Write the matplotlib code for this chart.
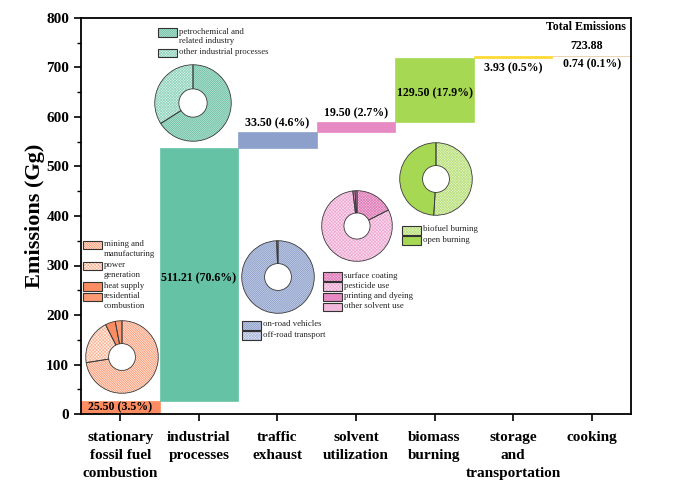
import numpy as np
import matplotlib
matplotlib.use('Agg')
from matplotlib import pyplot as plt
from matplotlib.patches import Rectangle
from matplotlib.ticker import MultipleLocator

plt.rcParams['font.family'] = ['Liberation Serif', 'DejaVu Serif']
plt.rcParams['hatch.linewidth'] = 0.5

W, H = 685, 492  # figure size in pixels (dpi 100)

# waterfall data (Gg)
sectors = ['stationary\nfossil fuel\ncombustion', 'industrial\nprocesses', 'traffic\nexhaust',
           'solvent\nutilization', 'biomass\nburning', 'storage\nand\ntransportation', 'cooking']
emissions = [25.50, 511.21, 33.50, 19.50, 129.50, 3.93, 0.74]
total = 723.88
bar_colors = ['#FC8D62', '#66C2A5', '#8DA0CB', '#E78AC3', '#A6D854', '#FFD92F', '#E5C494']

# sub-source shares inside each sector (%)
stat_labels = ['mining and\nmanufacturing', 'power\ngeneration', 'heat supply', 'residential\ncombustion']
stat_share = [72.5, 20.0, 4.5, 3.0]
indu_labels = ['petrochemical and\nrelated industry', 'other industrial processes']
indu_share = [66, 34]
traf_labels = ['on-road vehicles', 'off-road transport']
traf_share = [99.4, 0.6]
solv_labels = ['surface coating', 'pesticide use', 'printing and dyeing', 'other solvent use']
solv_share = [17.5, 80.6, 1.0, 0.9]
biom_labels = ['biofuel burning', 'open burning']
biom_share = [51, 49]

# (face, hatch, hatch colour)
stat_styles = [('#FEE3D8', '\\' * 14, '#FC8D62'), ('#FFF1EA', 'x' * 10, '#FCB597'),
               ('#FC8D62', None, None), ('#FD9A74', None, None)]
indu_styles = [('#BFE6D9', '/' * 16, '#5DB99B'), ('#E3F4EE', 'x' * 12, '#8FD3BD')]
traf_styles = [('#C9D2E8', '/' * 16, '#8396C4'), ('#E6EAF4', 'x' * 12, '#A9B8DA')]
solv_styles = [('#F3C3E0', 'x' * 12, '#DF7DB9'), ('#F9DCEE', 'x' * 10, '#EFA9D3'),
               ('#E78AC3', None, None), ('#F2B8DB', None, None)]
biom_styles = [('#E8F5D3', 'x' * 12, '#B9E07A'), ('#A6D854', None, None)]

fig = plt.figure(figsize=(W / 100, H / 100), dpi=100)
ax = fig.add_axes([81 / W, 1 - 414 / H, 550 / W, 396 / H])

x = np.arange(len(emissions))
bottoms = np.concatenate([[0], np.cumsum(emissions)[:-1]])
ax.bar(x, emissions, bottom=bottoms, width=1.0, color=bar_colors,
       edgecolor=bar_colors, linewidth=0.5)

ax.set_xlim(-0.5, 6.5)
ax.set_ylim(0, 800)
ax.yaxis.set_major_locator(MultipleLocator(100))
ax.yaxis.set_minor_locator(MultipleLocator(50))
ax.set_xticks(x)
ax.set_xticklabels(sectors, fontsize=11, fontweight='bold', linespacing=1.5)
for lab in ax.get_yticklabels():
    lab.set_fontweight('bold')
ax.tick_params(axis='y', labelsize=11, length=5, width=1.2, direction='out')
ax.tick_params(axis='y', which='minor', length=3, width=1.0)
ax.tick_params(axis='x', length=5, width=1.2, pad=7)
for sp in ax.spines.values():
    sp.set_linewidth(1.3)
ax.set_ylabel('Emissions (Gg)', fontsize=16, fontweight='bold', labelpad=1)

# value labels
pct = [100 * v / total for v in emissions]
lbl = [f'{v:.2f} ({p:.1f}%)' for v, p in zip(emissions, pct)]
kw = dict(ha='center', fontsize=8.6, fontweight='bold')
ax.text(0, bottoms[0] + emissions[0] / 2, lbl[0], va='center', **kw)
ax.text(1, bottoms[1] + emissions[1] / 2 - 6, lbl[1], va='center', **kw)
ax.text(2, bottoms[2] + emissions[2] + 5, lbl[2], va='bottom', **kw)
ax.text(3, bottoms[3] + emissions[3] + 5, lbl[3], va='bottom', **kw)
ax.text(4, bottoms[4] + emissions[4] / 2 - 6, lbl[4], va='center', **kw)
ax.text(5, bottoms[5] - 20, lbl[5], va='center', **kw)
ax.text(6, bottoms[6] - 16, lbl[6], va='center', **kw)
ax.text(5.93, 782, 'Total Emissions', va='center', **kw)
ax.text(5.93, 743, f'{total:.2f}', va='center', **kw)


def donut(cx, cy, r, shares, styles):
    a = fig.add_axes([(cx - r) / W, 1 - (cy + r) / H, 2 * r / W, 2 * r / H])
    wedges, _ = a.pie(shares, colors=[s[0] for s in styles], startangle=90,
                      counterclock=False, wedgeprops=dict(width=0.63, linewidth=0))
    for w, s in zip(wedges, styles):
        if s[1]:
            w.set_hatch(s[1])
            w.set_edgecolor(s[2])
    a.pie(shares, startangle=90, counterclock=False,
          wedgeprops=dict(width=0.63, fill=False, edgecolor='#3a3a3a', linewidth=0.6))
    a.set_xlim(-1.02, 1.02)
    a.set_ylim(-1.02, 1.02)
    a.set_axis_off()


def legend_block(x0, y0, labels, styles, line_h=10.3):
    y = y0
    for lab, s in zip(labels, styles):
        box = [x0 / W, 1 - (y + 8.5) / H]
        fig.add_artist(Rectangle(box, 19 / W, 8.5 / H, transform=fig.transFigure,
                                 facecolor=s[0], edgecolor=s[2] or s[0],
                                 hatch=s[1], linewidth=0))
        fig.add_artist(Rectangle(box, 19 / W, 8.5 / H, transform=fig.transFigure,
                                 fill=False, edgecolor='#333333', linewidth=0.8))
        fig.text((x0 + 21) / W, 1 - (y - 0.5) / H, lab, fontsize=6.3, va='top',
                 ha='left', linespacing=1.3, color='#222222')
        y += line_h * (lab.count('\n') + 1)


donut(122, 357, 37, stat_share, stat_styles)
donut(193, 103, 39, indu_share, indu_styles)
donut(278, 277, 37, traf_share, traf_styles)
donut(357, 226, 36, solv_share, solv_styles)
donut(436, 179, 37, biom_share, biom_styles)

legend_block(83, 241, stat_labels, stat_styles)
legend_block(158, 28, indu_labels, indu_styles)
legend_block(242, 321, traf_labels, traf_styles)
legend_block(323, 272, solv_labels, solv_styles)
legend_block(402, 226, biom_labels, biom_styles)

fig.savefig('out.png', dpi=100)
